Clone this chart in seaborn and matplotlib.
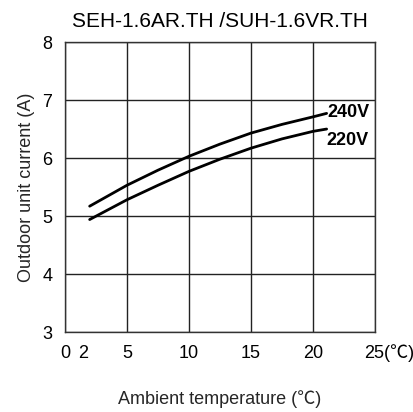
import matplotlib
matplotlib.use('Agg')
import matplotlib.pyplot as plt
import matplotlib.transforms as mtransforms
import seaborn as sns
import pandas as pd

# data
temps = [2, 5, 7.5, 10, 12.5, 15, 17.5, 20, 21.1]
current_240v = [5.17, 5.53, 5.79, 6.03, 6.24, 6.43, 6.58, 6.71, 6.77]
current_220v = [4.94, 5.28, 5.53, 5.77, 5.98, 6.17, 6.33, 6.46, 6.50]
series_names = ['240V', '220V']
x_ticks = [0, 5, 10, 15, 20, 25]
x_tick_labels = ['0', '5', '10', '15', '20', '25(\u2103)']
y_ticks = [3, 4, 5, 6, 7, 8]

sns.set_style('white')
plt.rcParams['font.family'] = ['Liberation Sans', 'Noto Sans CJK SC', 'DejaVu Sans']
plt.rcParams['text.color'] = 'black'

df = pd.DataFrame({
    'temp': temps * 2,
    'current': current_240v + current_220v,
    'voltage': [series_names[0]] * len(temps) + [series_names[1]] * len(temps),
})

fig = plt.figure(figsize=(4.13, 4.12), dpi=100)
ax = fig.add_axes([0.157, 0.194, 0.751, 0.704])

sns.lineplot(data=df, x='temp', y='current', hue='voltage',
             palette=['black', 'black'], linewidth=2.0, legend=False, ax=ax)

ax.set_xlim(0, 25)
ax.set_ylim(3, 8)
ax.set_xticks(x_ticks)
ax.set_xticklabels(x_tick_labels)
ax.set_xticks([1.5], minor=True)
ax.set_xticklabels(['2'], minor=True)
ax.set_yticks(y_ticks)
ax.tick_params(axis='both', which='both', length=0, labelsize=13, colors='black')
ax.tick_params(axis='x', which='both', pad=9)
ax.tick_params(axis='y', pad=9)
ax.grid(True, which='major', color='#222222', linewidth=1.0)
ax.grid(False, which='minor')
for s in ax.spines.values():
    s.set_color('#333333')
    s.set_linewidth(1.0)

# last x label: "25" sits on the tick, unit trails to the right
last = ax.get_xticklabels()[-1]
last.set_ha('left')
last.set_transform(last.get_transform() + mtransforms.ScaledTranslation(-8 / 72, 0, fig.dpi_scale_trans))

# curve labels
ax.text(21.15, 6.78, series_names[0], fontsize=13, fontweight='bold',
        ha='left', va='center')
ax.text(21.1, 6.31, series_names[1], fontsize=13, fontweight='bold',
        ha='left', va='center')

ax.set_title('SEH-1.6AR.TH /SUH-1.6VR.TH', fontsize=15, pad=11)
ax.set_xlabel('Ambient temperature (\u2103)', fontsize=13, labelpad=20)
ax.set_ylabel('Outdoor unit current (A)', fontsize=13, labelpad=5)

plt.savefig('out.png', dpi=100)
plt.close()
